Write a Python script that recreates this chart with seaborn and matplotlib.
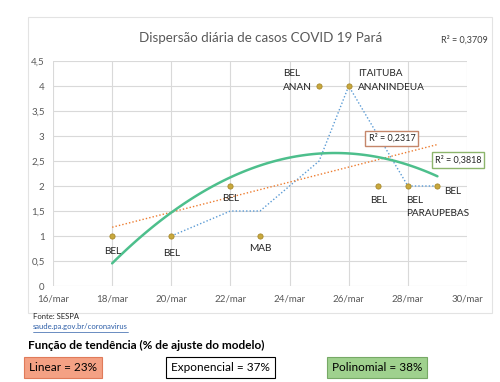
import numpy as np
import pandas as pd
import matplotlib
matplotlib.use("Agg")
import matplotlib.pyplot as plt
import seaborn as sns
from matplotlib.patches import Rectangle

# daily cases (day of March) and municipality labels
days = [18, 20, 22, 23, 25, 26, 27, 28, 29]
cases = [1, 1, 2, 1, 4, 4, 2, 2, 2]
point_labels = ["BEL", "BEL", "BEL", "MAB", "BEL\nANAN", "ITAITUBA\nANANINDEUA",
                "BEL", "BEL\nPARAUPEBAS", "BEL"]
x_ticks = [16, 18, 20, 22, 24, 26, 28, 30]
x_tick_labels = [f"{d}/mar" for d in x_ticks]
y_ticks = [0, 0.5, 1, 1.5, 2, 2.5, 3, 3.5, 4, 4.5]
r2_linear = "0,2317"
r2_exp = "0,3709"
r2_poly = "0,3818"
fit_boxes = ["Linear = 23%", "Exponencial = 37%", "Polinomial = 38%"]

df = pd.DataFrame({"day": days, "cases": cases})

# trend lines: linear, 2nd order polynomial, 2 period moving average
lin = np.polyfit(df["day"], df["cases"], 1)
poly = np.polyfit(df["day"], df["cases"], 2)
xs = np.linspace(18, 29, 100)
trend_lin = pd.DataFrame({"day": xs, "v": np.polyval(lin, xs)})
trend_poly = pd.DataFrame({"day": xs, "v": np.polyval(poly, xs)})
mov_avg = pd.DataFrame({"day": df["day"], "v": df["cases"].rolling(2).mean()}).dropna()

sns.set_style("white")
plt.rcParams["font.family"] = ["Lato", "DejaVu Sans"]

fig = plt.figure(figsize=(5, 3.82), dpi=100)
ax = fig.add_axes([0.106, 0.2513, 0.828, 0.589])

grey = "#595959"
sns.lineplot(data=mov_avg, x="day", y="v", ax=ax, color="#5B9BD5", lw=1.0,
             linestyle=(0, (1, 1.5)))
sns.lineplot(data=trend_lin, x="day", y="v", ax=ax, color="#ED7D31", lw=1.0,
             linestyle=(0, (1, 1.5)))
sns.lineplot(data=trend_poly, x="day", y="v", ax=ax, color="#4DBF8C", lw=1.8)
sns.scatterplot(data=df, x="day", y="cases", ax=ax, color="#C8A83C",
                edgecolor="#A8882A", s=14, zorder=5, linewidth=0.6)

# data labels
offsets = [(0, -8, "center", "top"), (0, -9, "center", "top"),
           (0, -6, "center", "top"), (0, -6, "center", "top"),
           (-26, 4, "left", "center"), (7, 4, "left", "center"),
           (0, -7, "center", "top"), (-1, -7, "left", "top"),
           (5, -4, "left", "center")]
for d, c, lab, (ox, oy, ha, va) in zip(days, cases, point_labels, offsets):
    ax.annotate(lab, (d, c), xytext=(ox, oy), textcoords="offset points",
                ha=ha, va=va, fontsize=7.2, color="#262626", linespacing=1.6)

ax.set_xlim(16, 30)
ax.set_ylim(0, 4.5)
ax.set_xticks(x_ticks)
ax.set_xticklabels(x_tick_labels)
ax.set_yticks(y_ticks)
ax.set_yticklabels([str(v).replace(".", ",").replace(",0", "") if v != 0 else "0" for v in y_ticks])
ax.tick_params(axis="both", labelsize=7, colors=grey, length=0, pad=6)
ax.grid(True, color="#D9D9D9", lw=0.8)
for s in ax.spines.values():
    s.set_visible(False)
ax.set_xlabel("")
ax.set_ylabel("")

# R2 labels
ax.text(27.46, 2.95, "R² = " + r2_linear, fontsize=6.5, color="#262626",
        ha="center", va="center",
        bbox=dict(boxstyle="square,pad=0.35", fc="white", ec="#C5866A", lw=1))
fig.text(0.916, 0.581, "R² = " + r2_poly, fontsize=6.5, color="#262626",
         ha="center", va="center",
         bbox=dict(boxstyle="square,pad=0.35", fc="white", ec="#8DB56C", lw=1))
fig.text(0.976, 0.896, "R² = " + r2_exp, fontsize=6.5, color="#404040",
         ha="right", va="center")

fig.text(0.522, 0.9, "Dispersão diária de casos COVID 19 Pará", fontsize=9.6,
         color=grey, ha="center", va="center")

# light outer frame of the chart area
frame = Rectangle((0.056, 0.18), 0.928, 0.775, transform=fig.transFigure,
                  fill=False, ec="#E3E3E3", lw=0.8)
fig.add_artist(frame)

fig.text(0.066, 0.171, "Fonte: SESPA", fontsize=5.5, color="#262626", va="center")
fig.text(0.066, 0.144, "saude.pa.gov.br/coronavirus", fontsize=5.5, color="#2E5FA8",
         va="center").set_url("https://saude.pa.gov.br/coronavirus")
fig.add_artist(plt.Line2D([0.066, 0.255], [0.131, 0.131], transform=fig.transFigure,
                          color="#2E5FA8", lw=0.5))

fig.text(0.056, 0.096, "Função de tendência (% de ajuste do modelo)", fontsize=8.5,
         fontweight="bold", color="black", va="center")
box_style = [("#F4A184", "#E07B5A", 0.058), ("white", "black", 0.342), ("#9FD18E", "#77A966", 0.664)]
for txt, (fc, ec, x0) in zip(fit_boxes, box_style):
    fig.text(x0, 0.038, txt, fontsize=8.5, color="black", va="center",
             bbox=dict(boxstyle="square,pad=0.4", fc=fc, ec=ec, lw=0.8))

fig.savefig("out.png", dpi=100, facecolor="white")
